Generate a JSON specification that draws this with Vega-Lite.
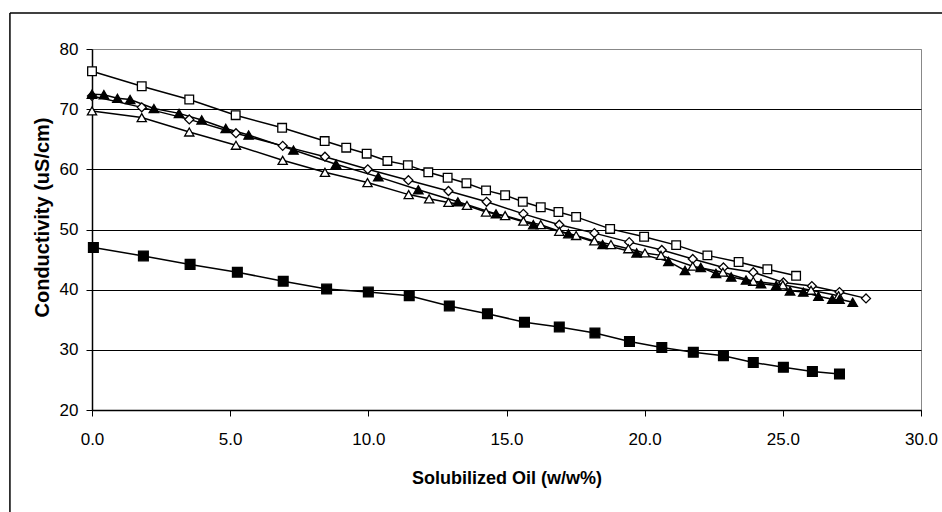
{
  "$schema": "https://vega.github.io/schema/vega-lite/v6.json",
  "width": 829,
  "height": 361,
  "autosize": {"type": "none"},
  "padding": {"left": 92, "top": 49, "right": 21, "bottom": 102},
  "background": "white",
  "config": {
    "view": {"stroke": "#888888", "strokeWidth": 1},
    "font": "Liberation Sans"
  },
  "datasets": {
    "pts": [
      {"s": "A", "x": 0, "y": 76.3}, {"s": "A", "x": 1.8, "y": 73.8}, {"s": "A", "x": 3.52, "y": 71.6}, {"s": "A", "x": 5.2, "y": 69.0}, {"s": "A", "x": 6.88, "y": 66.9}, {"s": "A", "x": 8.42, "y": 64.7}, {"s": "A", "x": 9.2, "y": 63.6}, {"s": "A", "x": 9.94, "y": 62.6}, {"s": "A", "x": 10.69, "y": 61.4}, {"s": "A", "x": 11.43, "y": 60.7}, {"s": "A", "x": 12.17, "y": 59.5}, {"s": "A", "x": 12.87, "y": 58.6}, {"s": "A", "x": 13.55, "y": 57.7}, {"s": "A", "x": 14.26, "y": 56.5}, {"s": "A", "x": 14.95, "y": 55.7}, {"s": "A", "x": 15.59, "y": 54.6}, {"s": "A", "x": 16.24, "y": 53.7}, {"s": "A", "x": 16.88, "y": 52.9}, {"s": "A", "x": 17.52, "y": 52.1}, {"s": "A", "x": 18.75, "y": 50.1}, {"s": "A", "x": 19.98, "y": 48.8}, {"s": "A", "x": 21.14, "y": 47.4}, {"s": "A", "x": 22.27, "y": 45.7}, {"s": "A", "x": 23.4, "y": 44.6}, {"s": "A", "x": 24.44, "y": 43.4}, {"s": "A", "x": 25.48, "y": 42.3},
      {"s": "B", "x": 0, "y": 72.2}, {"s": "B", "x": 1.8, "y": 70.3}, {"s": "B", "x": 3.52, "y": 68.3}, {"s": "B", "x": 5.21, "y": 66.0}, {"s": "B", "x": 6.9, "y": 63.9}, {"s": "B", "x": 8.43, "y": 62.1}, {"s": "B", "x": 9.98, "y": 60.0}, {"s": "B", "x": 11.45, "y": 58.2}, {"s": "B", "x": 12.9, "y": 56.4}, {"s": "B", "x": 14.28, "y": 54.6}, {"s": "B", "x": 15.61, "y": 52.6}, {"s": "B", "x": 16.91, "y": 50.8}, {"s": "B", "x": 18.18, "y": 49.4}, {"s": "B", "x": 19.44, "y": 47.9}, {"s": "B", "x": 20.62, "y": 46.6}, {"s": "B", "x": 21.74, "y": 45.1}, {"s": "B", "x": 22.85, "y": 43.7}, {"s": "B", "x": 23.93, "y": 42.9}, {"s": "B", "x": 25.02, "y": 41.2}, {"s": "B", "x": 26.05, "y": 40.6}, {"s": "B", "x": 27.05, "y": 39.6}, {"s": "B", "x": 28.01, "y": 38.55},
      {"s": "C", "x": 0, "y": 69.7}, {"s": "C", "x": 1.8, "y": 68.6}, {"s": "C", "x": 3.52, "y": 66.2}, {"s": "C", "x": 5.21, "y": 64.0}, {"s": "C", "x": 6.9, "y": 61.5}, {"s": "C", "x": 8.43, "y": 59.5}, {"s": "C", "x": 9.97, "y": 57.8}, {"s": "C", "x": 11.46, "y": 55.8}, {"s": "C", "x": 12.2, "y": 55.1}, {"s": "C", "x": 12.9, "y": 54.5}, {"s": "C", "x": 13.57, "y": 54.0}, {"s": "C", "x": 14.26, "y": 52.9}, {"s": "C", "x": 14.95, "y": 52.3}, {"s": "C", "x": 15.61, "y": 51.4}, {"s": "C", "x": 16.24, "y": 50.8}, {"s": "C", "x": 16.91, "y": 49.7}, {"s": "C", "x": 17.52, "y": 49.0}, {"s": "C", "x": 18.18, "y": 48.1}, {"s": "C", "x": 18.78, "y": 47.5}, {"s": "C", "x": 19.41, "y": 46.8}, {"s": "C", "x": 20.01, "y": 46.1}, {"s": "C", "x": 20.59, "y": 45.7}, {"s": "C", "x": 21.74, "y": 43.9}, {"s": "C", "x": 22.83, "y": 42.9}, {"s": "C", "x": 23.93, "y": 41.4}, {"s": "C", "x": 25.0, "y": 40.8}, {"s": "C", "x": 26.02, "y": 39.9}, {"s": "C", "x": 27.02, "y": 39.0},
      {"s": "D", "x": 0, "y": 72.5}, {"s": "D", "x": 0.43, "y": 72.4}, {"s": "D", "x": 0.92, "y": 71.8}, {"s": "D", "x": 1.38, "y": 71.6}, {"s": "D", "x": 2.24, "y": 70.1}, {"s": "D", "x": 3.15, "y": 69.3}, {"s": "D", "x": 3.97, "y": 68.2}, {"s": "D", "x": 4.84, "y": 66.8}, {"s": "D", "x": 5.67, "y": 65.7}, {"s": "D", "x": 7.29, "y": 63.2}, {"s": "D", "x": 8.83, "y": 60.85}, {"s": "D", "x": 10.36, "y": 58.75}, {"s": "D", "x": 11.81, "y": 56.6}, {"s": "D", "x": 13.24, "y": 54.6}, {"s": "D", "x": 14.62, "y": 52.6}, {"s": "D", "x": 15.97, "y": 50.8}, {"s": "D", "x": 17.24, "y": 49.3}, {"s": "D", "x": 18.48, "y": 47.5}, {"s": "D", "x": 19.71, "y": 46.1}, {"s": "D", "x": 20.86, "y": 44.7}, {"s": "D", "x": 21.46, "y": 43.2}, {"s": "D", "x": 22.03, "y": 43.7}, {"s": "D", "x": 22.58, "y": 42.7}, {"s": "D", "x": 23.13, "y": 42.1}, {"s": "D", "x": 23.67, "y": 41.6}, {"s": "D", "x": 24.21, "y": 41.0}, {"s": "D", "x": 24.76, "y": 40.7}, {"s": "D", "x": 25.26, "y": 39.8}, {"s": "D", "x": 25.74, "y": 39.6}, {"s": "D", "x": 26.29, "y": 38.9}, {"s": "D", "x": 26.79, "y": 38.4}, {"s": "D", "x": 27.05, "y": 38.4}, {"s": "D", "x": 27.53, "y": 37.9},
      {"s": "E", "x": 0.05, "y": 47.0}, {"s": "E", "x": 1.86, "y": 45.6}, {"s": "E", "x": 3.55, "y": 44.2}, {"s": "E", "x": 5.26, "y": 42.9}, {"s": "E", "x": 6.92, "y": 41.4}, {"s": "E", "x": 8.49, "y": 40.1}, {"s": "E", "x": 10.0, "y": 39.6}, {"s": "E", "x": 11.48, "y": 39.0}, {"s": "E", "x": 12.93, "y": 37.3}, {"s": "E", "x": 14.31, "y": 36.0}, {"s": "E", "x": 15.65, "y": 34.6}, {"s": "E", "x": 16.91, "y": 33.8}, {"s": "E", "x": 18.2, "y": 32.8}, {"s": "E", "x": 19.45, "y": 31.4}, {"s": "E", "x": 20.62, "y": 30.4}, {"s": "E", "x": 21.76, "y": 29.6}, {"s": "E", "x": 22.85, "y": 29.0}, {"s": "E", "x": 23.93, "y": 27.9}, {"s": "E", "x": 25.02, "y": 27.1}, {"s": "E", "x": 26.07, "y": 26.4}, {"s": "E", "x": 27.05, "y": 26.0}
    ],
    "frame": [
      {"x": -2.97, "x2": -2.97, "y": 86.0, "y2": 2.0},
      {"x": -2.97, "x2": 32.0, "y": 86.0, "y2": 86.0}
    ]
  },
  "layer": [
    {
      "data": {"name": "frame"},
      "mark": {"type": "rule", "color": "black", "strokeWidth": 1.5, "clip": false},
      "encoding": {
        "x": {"field": "x", "type": "quantitative", "scale": {"domain": [0, 30], "nice": false, "zero": false}},
        "x2": {"field": "x2"},
        "y": {"field": "y", "type": "quantitative", "scale": {"domain": [20, 80], "nice": false, "zero": false}},
        "y2": {"field": "y2"}
      }
    },
    {
      "data": {"name": "pts"},
      "mark": {"type": "line", "color": "black", "strokeWidth": 1.5},
      "encoding": {
        "x": {"field": "x", "type": "quantitative",
          "scale": {"domain": [0, 30], "nice": false, "zero": false},
          "axis": {
            "title": "Solubilized Oil (w/w%)",
            "values": [0, 5, 10, 15, 20, 25, 30],
            "format": ".1f",
            "grid": false,
            "labelFlush": false,
            "labelOverlap": false,
            "domainColor": "black", "domainWidth": 1.5,
            "tickColor": "black", "tickSize": 6, "tickWidth": 1,
            "labelFont": "Liberation Sans", "labelFontSize": 17, "labelColor": "black", "labelPadding": 15,
            "titleFont": "Liberation Sans", "titleFontWeight": "bold", "titleFontSize": 18, "titleColor": "black", "titlePadding": 22
          }
        },
        "y": {"field": "y", "type": "quantitative",
          "scale": {"domain": [20, 80], "nice": false, "zero": false},
          "axis": {
            "title": "Conductivity (uS/cm)",
            "values": [20, 30, 40, 50, 60, 70, 80],
            "grid": true,
            "gridColor": {"condition": {"test": "datum.value === 80", "value": "#888888"}, "value": "black"},
            "gridWidth": 1,
            "domainColor": "black", "domainWidth": 1.5,
            "tickColor": "black", "tickSize": 6, "tickWidth": 1,
            "labelFont": "Liberation Sans", "labelFontSize": 17, "labelColor": "black", "labelPadding": 8,
            "titleFont": "Liberation Sans", "titleFontWeight": "bold", "titleFontSize": 20, "titleColor": "black",
            "titleX": -50, "titleY": 168, "titleBaseline": "middle", "titleAngle": 270
          }
        },
        "detail": {"field": "s", "type": "nominal"}
      }
    },
    {
      "data": {"name": "pts"},
      "mark": {"type": "point", "stroke": "black", "strokeWidth": 1.3, "opacity": 1},
      "encoding": {
        "x": {"field": "x", "type": "quantitative"},
        "y": {"field": "y", "type": "quantitative"},
        "shape": {"field": "s", "type": "nominal", "legend": null,
          "scale": {"domain": ["A", "B", "C", "D", "E"], "range": ["square", "diamond", "triangle-up", "triangle-up", "square"]}},
        "fill": {"field": "s", "type": "nominal", "legend": null,
          "scale": {"domain": ["A", "B", "C", "D", "E"], "range": ["white", "white", "white", "black", "black"]}},
        "size": {"field": "s", "type": "nominal", "legend": null,
          "scale": {"domain": ["A", "B", "C", "D", "E"], "range": [75, 95, 100, 100, 160]}}
      }
    }
  ]
}
